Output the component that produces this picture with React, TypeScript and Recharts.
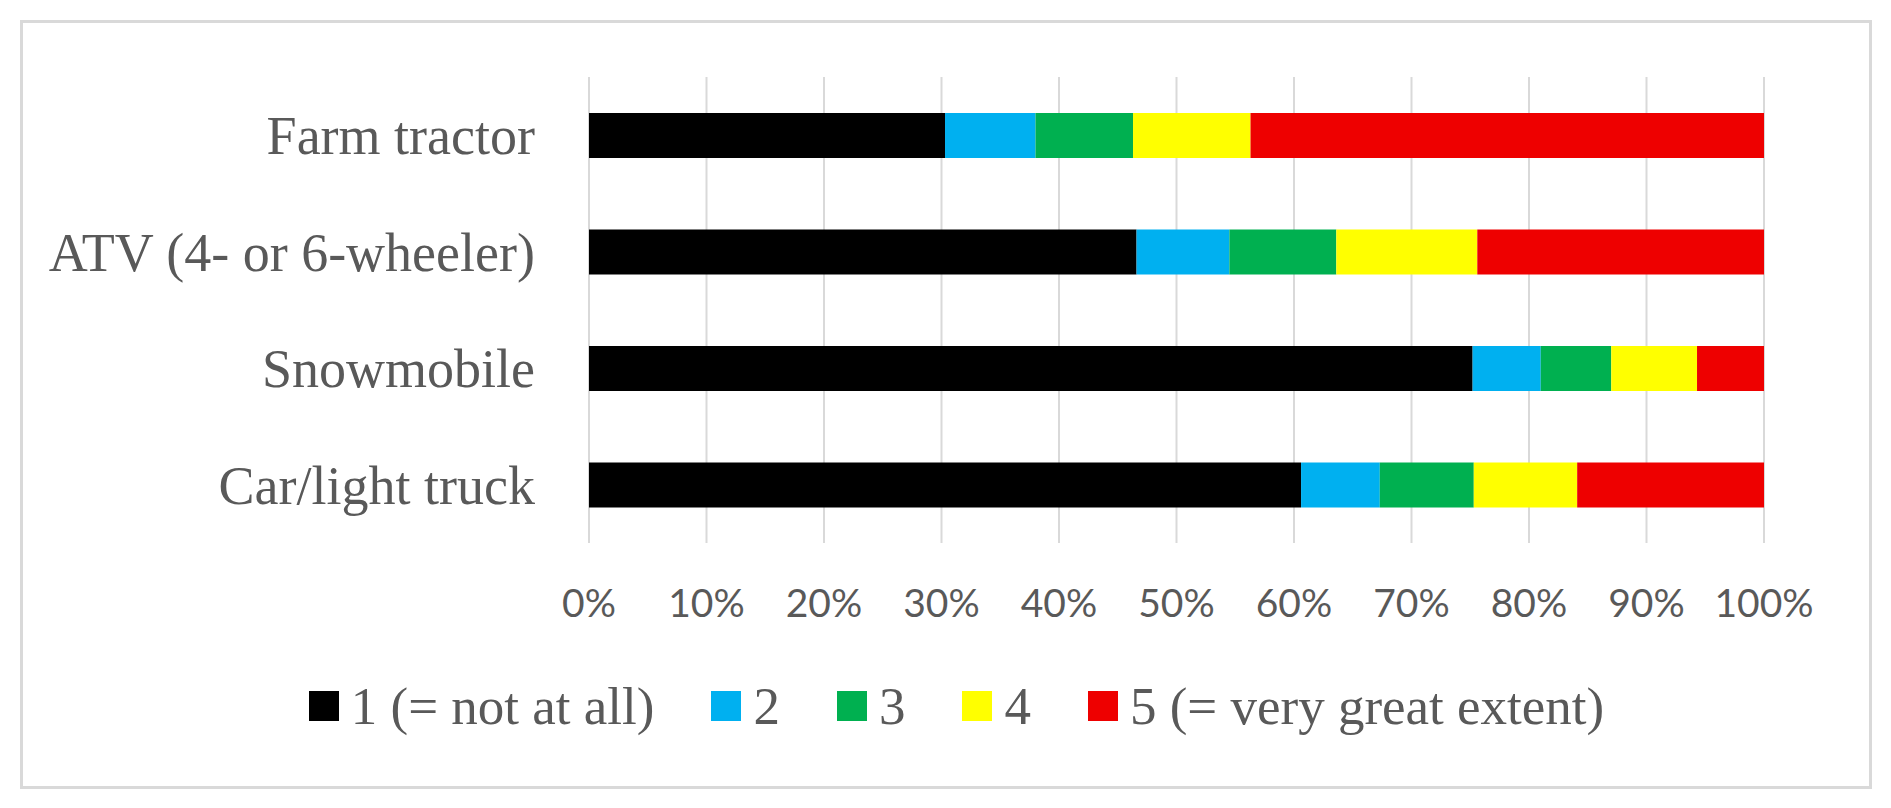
import React from 'react';
import { BarChart, Bar, XAxis, YAxis, CartesianGrid, Legend } from 'recharts';

const vehicles = ['Farm tractor', 'ATV (4- or 6-wheeler)', 'Snowmobile', 'Car/light truck'];
const level1 = [30.3, 46.6, 75.2, 60.6];
const level2 = [7.7, 7.9, 5.8, 6.7];
const level3 = [8.3, 9.1, 6.0, 8.0];
const level4 = [10.0, 12.0, 7.3, 8.8];
const level5 = [43.7, 24.4, 5.7, 15.9];
const percentTicks = [0, 10, 20, 30, 40, 50, 60, 70, 80, 90, 100];

const seriesNames = ['1 (= not at all)', '2', '3', '4', '5 (= very great extent)'];
const seriesColors = ['#000000', '#00B0F0', '#00B050', '#FFFF00', '#EE0000'];
const seriesValues = [level1, level2, level3, level4, level5];

const data = vehicles.map((name, i) => {
  const row: Record<string, string | number> = { name };
  seriesValues.forEach((vals, s) => {
    row['s' + s] = vals[i];
  });
  return row;
});

const serif = '"Liberation Serif", "Times New Roman", serif';
const labelGray = '#595959';

const LegendContent = ({ payload }: any) => (
  <div style={{ display: 'flex', justifyContent: 'center', alignItems: 'center', height: 44 }}>
    {(payload || []).map((entry: any, i: number) => (
      <div
        key={entry.value}
        style={{ display: 'flex', alignItems: 'center', marginRight: i < payload.length - 1 ? 57 : 0 }}
      >
        <span style={{ width: 30, height: 30, background: entry.color, display: 'inline-block', marginRight: 12 }} />
        <span style={{ fontFamily: serif, fontSize: 53, color: labelGray, lineHeight: 1 }}>{entry.value}</span>
      </div>
    ))}
  </div>
);

const App: React.FC = () => {
  return (
    <div style={{ position: 'absolute', left: 0, top: 0, width: 1891, height: 808, background: '#fff' }}>
      <div
        style={{
          position: 'absolute',
          left: 20,
          top: 20,
          width: 1852,
          height: 769,
          boxSizing: 'border-box',
          border: '3px solid #d9d9d9',
        }}
      />
      <BarChart
        width={1891}
        height={808}
        data={data}
        layout="vertical"
        barSize={45}
        margin={{ top: 77, right: 127, left: 0, bottom: 205 }}
      >
        <CartesianGrid horizontal={false} stroke="#d9d9d9" strokeWidth={2} />
        <XAxis
          type="number"
          domain={[0, 100]}
          ticks={percentTicks}
          tickFormatter={(v: number) => `${v}%`}
          axisLine={false}
          tickLine={false}
          tickSize={0}
          tickMargin={46}
          height={60}
          interval={0}
          tick={{ fill: labelGray, fontSize: 39, fontFamily: 'Lato, "Open Sans", sans-serif' }}
        />
        <YAxis
          type="category"
          dataKey="name"
          width={589}
          axisLine={false}
          tickLine={false}
          tickSize={0}
          tickMargin={54}
          interval={0}
          tick={{ fill: labelGray, fontSize: 54, fontFamily: serif }}
        />
        <Legend
          layout="horizontal"
          verticalAlign="middle"
          align="center"
          content={<LegendContent />}
          wrapperStyle={{ top: 684, left: 11, width: 1891 }}
        />
        {seriesNames.map((n, s) => (
          <Bar key={n} dataKey={'s' + s} name={n} stackId="a" fill={seriesColors[s]} isAnimationActive={false} />
        ))}
      </BarChart>
    </div>
  );
};

export default App;
